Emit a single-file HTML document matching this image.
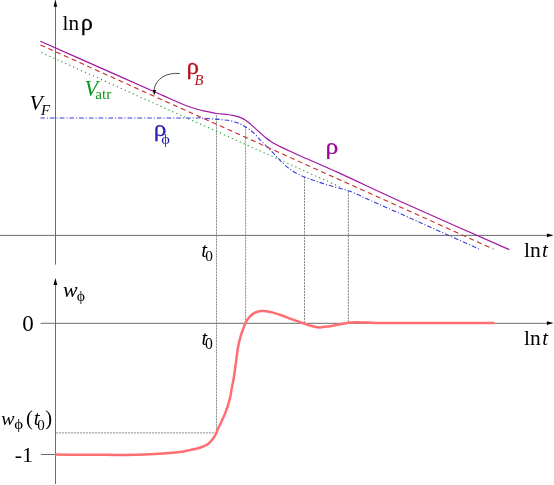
<!DOCTYPE html>
<html>
<head>
<meta charset="utf-8">
<title>Quintessence tracking figure</title>
<style>
html,body{margin:0;padding:0;background:#fff;}
body{width:554px;height:485px;overflow:hidden;}
svg{display:block;will-change:transform;}
text{font-family:"Liberation Serif","DejaVu Serif",serif;}
.ax{stroke:#6c6c6c;stroke-width:1;fill:none;}
.gd{stroke:#4a4a4a;stroke-width:0.62;stroke-dasharray:2.2 0.8;fill:none;}
</style>
</head>
<body>
<svg width="554" height="485" viewBox="0 0 554 485">
<rect width="554" height="485" fill="#fff"/>

<!-- guide lines -->
<path class="gd" d="M216.5 115.2V432.8"/>
<path class="gd" d="M245.6 126.2V323"/>
<path class="gd" d="M304.5 176.8V323"/>
<path class="gd" d="M348.4 190.8V323"/>
<path class="gd" d="M56 432.9H216.5"/>

<!-- axes -->
<path class="ax" d="M55.5 6V264.6"/>
<path d="M55.4 -0.6L57.2 6.8H53.6Z" fill="#000"/>
<path class="ax" d="M0 235.4H547"/>
<path d="M553.6 235.3L546.9 233.4V237.2Z" fill="#000"/>

<path class="ax" d="M55.5 284V484"/>
<path d="M55.4 278.1L57.3 284.9H53.5Z" fill="#000"/>
<path class="ax" d="M40.6 323.3H547"/>
<path d="M553.6 323.1L546.9 321.2V325Z" fill="#000"/>
<path class="ax" d="M40.9 454.5H56"/>

<!-- upper curves -->
<path d="M41.4 52.6L341.2 187.45" stroke="#22a030" stroke-width="1.15" stroke-dasharray="1.2 3.15" fill="none"/>
<path d="M40.5 45L493.6 249.1" stroke="#c62828" stroke-width="1.08" stroke-dasharray="5 3.55" fill="none"/>
<path d="M40.4 118.0C53.7 118.0 95.1 118.0 120.0 118.0C144.9 118.0 176.7 118.0 190.0 118.0C203.3 118.0 196.1 117.8 200.0 118.0C203.9 118.2 209.6 118.7 213.5 119.0C217.4 119.3 220.3 119.4 223.5 119.8C226.7 120.2 229.7 120.5 232.5 121.2C235.3 121.9 238.2 123.0 240.3 123.9C242.4 124.8 243.5 125.8 245.2 126.8C246.9 127.8 248.6 128.8 250.3 130.1C252.0 131.4 253.8 133.0 255.5 134.7C257.2 136.4 258.9 138.5 260.6 140.3C262.3 142.1 264.1 143.9 265.8 145.6C267.5 147.3 269.2 149.0 270.9 150.7C272.6 152.4 274.6 154.4 276.1 155.9C277.6 157.4 278.2 158.3 279.7 159.9C281.2 161.5 282.8 163.4 285.2 165.4C287.6 167.4 290.8 170.1 294.0 172.0C297.2 173.9 300.9 175.4 304.4 176.9C307.9 178.4 311.5 179.6 315.0 180.8C318.5 182.0 321.9 183.2 325.6 184.3C329.3 185.4 333.2 186.5 337.0 187.6C340.8 188.7 344.5 189.4 348.3 190.7C352.1 192.0 356.2 193.9 360.0 195.6C363.8 197.3 362.8 197.1 371.1 200.8C379.4 204.5 392.0 209.9 410.0 218.0C428.0 226.1 467.7 243.9 479.2 249.1" stroke="#3a3adf" stroke-width="1.1" stroke-dasharray="4.6 2 1.1 2" fill="none"/>
<path d="M40.3 41.2C50.2 45.6 80.0 58.8 100.0 67.6C120.0 76.4 148.5 89.1 160.0 94.2C171.5 99.2 166.0 96.8 169.0 98.2C172.0 99.6 175.1 101.0 178.1 102.3C181.1 103.6 184.1 104.9 187.1 106.0C190.1 107.1 193.4 108.2 196.1 109.0C198.8 109.8 201.0 110.4 203.3 110.9C205.6 111.4 207.8 111.8 210.0 112.2C212.2 112.6 213.6 113.1 216.4 113.5C219.2 113.9 224.2 114.2 227.1 114.5C230.0 114.8 231.8 115.1 234.0 115.6C236.2 116.1 238.1 116.7 240.0 117.4C241.9 118.1 243.5 118.8 245.2 119.9C246.9 121.0 248.6 122.5 250.3 123.9C252.0 125.4 253.8 127.0 255.5 128.6C257.2 130.1 258.9 131.7 260.6 133.2C262.3 134.7 264.1 136.3 265.8 137.7C267.5 139.1 269.2 140.3 270.9 141.4C272.6 142.5 274.4 143.6 276.1 144.5C277.8 145.4 278.9 146.0 281.2 147.1C283.5 148.2 286.7 149.7 290.0 151.2C293.3 152.7 292.7 152.5 301.0 156.2C309.3 159.9 321.8 165.1 340.0 173.4C358.2 181.7 381.8 193.1 410.0 205.8C438.2 218.5 492.8 242.3 509.3 249.6" stroke="#a01aa4" stroke-width="1.25" fill="none"/>

<!-- arrow for rho_B -->
<path d="M179.8 73.55C168.5 72.2 155.2 77.6 153.9 90.5" stroke="#3a3a3a" stroke-width="0.9" fill="none"/>
<path d="M154.1 95.4L152.9 90H156.1Z" fill="#000"/>

<!-- lower curve -->
<path d="M55.2 454.6C59.3 454.6 72.5 454.7 80.0 454.7C87.5 454.7 92.5 454.8 100.0 454.8C107.5 454.9 116.9 455.1 125.3 455.0C133.7 454.9 142.1 454.6 150.5 454.2C158.9 453.8 169.5 453.0 175.8 452.4C182.1 451.8 184.3 451.3 188.5 450.4C192.7 449.5 197.7 448.4 201.1 447.2C204.5 446.0 206.6 445.0 208.7 443.4C210.8 441.8 212.4 439.6 213.7 437.8C215.0 436.0 215.6 434.6 216.4 432.8C217.2 431.0 217.9 428.9 218.8 427.0C219.7 425.1 220.5 423.9 221.7 421.3C222.9 418.7 224.7 414.8 226.0 411.2C227.3 407.6 228.6 403.5 229.6 399.6C230.6 395.8 231.1 392.0 231.8 388.1C232.5 384.2 233.4 380.4 234.0 376.5C234.6 372.6 235.1 368.4 235.6 365.0C236.1 361.6 236.4 359.1 236.8 356.0C237.2 352.9 237.5 349.8 238.2 346.2C238.9 342.6 240.1 337.9 241.1 334.6C242.1 331.4 243.2 328.9 244.0 326.7C244.8 324.5 245.2 323.3 246.2 321.6C247.2 319.9 248.5 318.0 249.8 316.6C251.1 315.2 252.5 314.0 254.1 313.1C255.7 312.2 257.6 311.5 259.2 311.2C260.8 310.9 261.7 311.0 263.5 311.1C265.3 311.2 268.2 311.6 270.0 311.9C271.8 312.2 271.9 312.2 274.0 312.9C276.1 313.5 279.7 314.7 282.8 315.8C285.9 316.9 289.7 318.5 292.9 319.6C296.1 320.8 298.9 321.7 301.8 322.7C304.8 323.7 307.7 324.9 310.6 325.7C313.5 326.5 316.4 327.3 319.4 327.4C322.4 327.5 325.6 326.9 328.8 326.4C332.1 325.9 335.6 325.1 338.9 324.5C342.1 323.9 345.4 323.2 348.3 322.8C351.2 322.4 352.9 322.3 356.2 322.3C359.4 322.3 364.2 322.5 367.8 322.6C371.4 322.7 372.5 323.0 377.9 323.1C383.3 323.1 380.6 323.1 400.0 323.1C419.4 323.1 478.7 323.1 494.4 323.1" stroke="#ff6e73" stroke-width="2.5" fill="none" stroke-linejoin="round"/>

<!-- labels -->
<text id="ln1" transform="translate(62.62 29.88)" font-size="21.20" fill="#000">ln</text>
<text id="rho1" transform="translate(80.80 29.73) scale(1.040 1)" font-size="23.41" fill="#000" stroke="#000" stroke-width="0.25">ρ</text>
<text id="V1" transform="translate(29.62 110.42)" font-size="21.63" fill="#000" font-style="italic">V</text>
<text id="F1" transform="translate(40.92 114.55)" font-size="14.85" fill="#000" font-style="italic">F</text>
<text id="V2" transform="translate(84.47 95.95)" font-size="22.16" fill="#14961e" font-style="italic">V</text>
<text id="atr" transform="translate(95.30 99.45)" font-size="15.18" fill="#14961e">atr</text>
<text id="rho2" transform="translate(186.55 73.75) scale(1.074 1)" font-size="23.35" fill="#b80f1a" stroke="#b80f1a" stroke-width="0.25">ρ</text>
<text id="B" transform="translate(194.50 85.10)" font-size="14.55" fill="#b80f1a" font-style="italic">B</text>
<text id="rho3" transform="translate(153.77 135.75) scale(1.090 1)" font-size="23.35" fill="#2a1fb0" stroke="#2a1fb0" stroke-width="0.25">ρ</text>
<text id="phi3" transform="translate(161.20 143.75) scale(1.118 1)" font-size="14.76" fill="#2a1fb0">ϕ</text>
<text id="rho4" transform="translate(325.42 154.12) scale(1.075 1)" font-size="23.87" fill="#960a96" stroke="#960a96" stroke-width="0.25">ρ</text>
<text id="ln2" transform="translate(524.10 257.32)" font-size="21.60" fill="#000">ln</text>
<text id="t2" transform="translate(542.05 256.93)" font-size="21.06" fill="#000" font-style="italic">t</text>
<text id="ln3" transform="translate(523.98 344.95)" font-size="21.45" fill="#000">ln</text>
<text id="t3" transform="translate(542.17 344.93)" font-size="20.71" fill="#000" font-style="italic">t</text>
<text id="t4" transform="translate(201.30 257.00)" font-size="20.81" fill="#000" font-style="italic">t</text>
<text id="z4" transform="translate(205.25 260.80)" font-size="15.30" fill="#000">0</text>
<text id="t5" transform="translate(201.42 344.70)" font-size="20.45" fill="#000" font-style="italic">t</text>
<text id="z5" transform="translate(205.12 348.77)" font-size="15.67" fill="#000">0</text>
<text id="w6" transform="translate(62.90 297.27)" font-size="21.85" fill="#000" font-style="italic">w</text>
<text id="phi6" transform="translate(76.67 300.92) scale(1.130 1)" font-size="13.92" fill="#000">ϕ</text>
<text id="zero" transform="translate(22.25 330.50)" font-size="23.03" fill="#000">0</text>
<text id="m1" transform="translate(14.67 461.95)" font-size="21.96" fill="#000">-1</text>
<text id="w7" transform="translate(1.18 424.80)" font-size="19.89" fill="#000" font-style="italic">w</text>
<text id="phi7" transform="translate(14.17 429.17) scale(1.124 1)" font-size="15.02" fill="#000">ϕ</text>
<text id="lp" transform="translate(26.03 424.57)" font-size="20.61" fill="#000">(</text>
<text id="t7" transform="translate(33.65 425.00)" font-size="20.81" fill="#000" font-style="italic">t</text>
<text id="z7" transform="translate(37.23 429.52)" font-size="15.09" fill="#000">0</text>
<text id="rp" transform="translate(45.25 424.57)" font-size="20.61" fill="#000">)</text>
</svg>
</body>
</html>
